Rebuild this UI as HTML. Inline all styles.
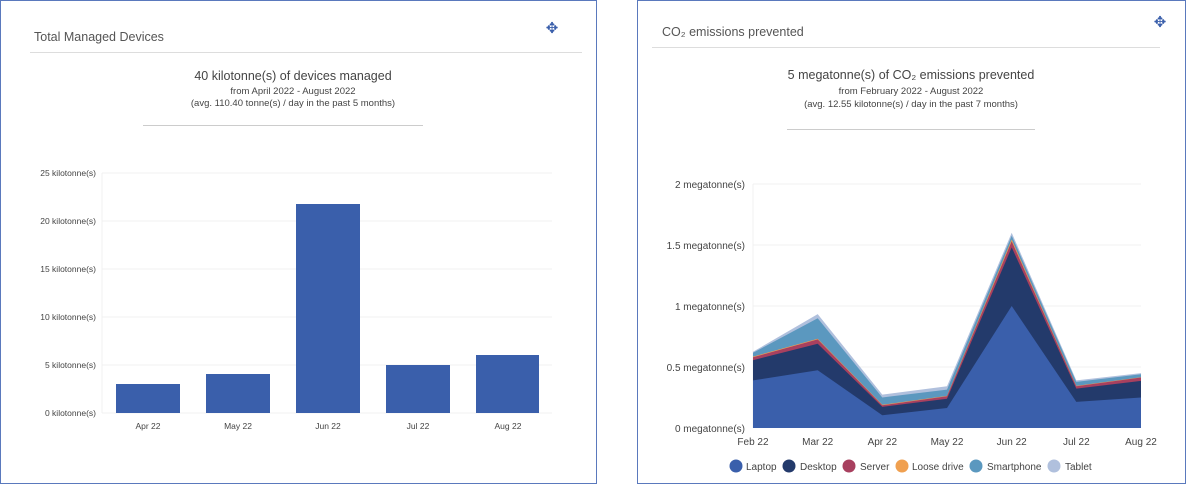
<!DOCTYPE html>
<html><head><meta charset="utf-8"><style>
body{margin:0;background:#fff;width:1186px;height:484px;overflow:hidden;font-family:"Liberation Sans",sans-serif}
</style></head><body>
<svg width="1186" height="484" xmlns="http://www.w3.org/2000/svg" font-family="Liberation Sans, sans-serif">
<rect x="0.5" y="0.5" width="596" height="483" fill="#fff" stroke="#5a79bd"/>
<rect x="637.5" y="0.5" width="548" height="483" fill="#fff" stroke="#5a79bd"/>
<!-- left panel -->
<text x="34" y="41" font-size="12.5" fill="#555">Total Managed Devices</text>
<line x1="30" y1="52.5" x2="582" y2="52.5" stroke="#ddd"/>
<text x="552" y="33" font-size="15" fill="#3a5fab" text-anchor="middle">✥</text>
<text x="293" y="80" font-size="12.5" fill="#444" text-anchor="middle">40 kilotonne(s) of devices managed</text>
<text x="293" y="94" font-size="9.5" fill="#444" text-anchor="middle">from April 2022 - August 2022</text>
<text x="293" y="106" font-size="9.5" fill="#444" text-anchor="middle">(avg. 110.40 tonne(s) / day in the past 5 months)</text>
<line x1="143" y1="125.5" x2="423" y2="125.5" stroke="#ccc"/>
<g stroke="#f0f0f0">
<line x1="102" y1="173" x2="552" y2="173"/><line x1="102" y1="221" x2="552" y2="221"/><line x1="102" y1="269" x2="552" y2="269"/><line x1="102" y1="317" x2="552" y2="317"/><line x1="102" y1="365" x2="552" y2="365"/><line x1="102" y1="413" x2="552" y2="413"/>
<line x1="102" y1="173" x2="102" y2="413"/>
</g>
<g font-size="8.5" fill="#444" text-anchor="end">
<text x="96" y="176">25 kilotonne(s)</text><text x="96" y="224">20 kilotonne(s)</text><text x="96" y="272">15 kilotonne(s)</text><text x="96" y="320">10 kilotonne(s)</text><text x="96" y="368">5 kilotonne(s)</text><text x="96" y="416">0 kilotonne(s)</text>
</g>
<g fill="#3a5fab">
<rect x="116" y="384" width="64" height="29"/><rect x="206" y="374" width="64" height="39"/><rect x="296" y="204" width="64" height="209"/><rect x="386" y="365" width="64" height="48"/><rect x="476" y="355" width="63" height="58"/>
</g>
<g font-size="8.5" fill="#444" text-anchor="middle">
<text x="148" y="429">Apr 22</text><text x="238" y="429">May 22</text><text x="328" y="429">Jun 22</text><text x="418" y="429">Jul 22</text><text x="508" y="429">Aug 22</text>
</g>
<!-- right panel -->
<text x="662" y="36" font-size="12.5" fill="#555">CO₂ emissions prevented</text>
<line x1="652" y1="47.5" x2="1160" y2="47.5" stroke="#ddd"/>
<text x="1160" y="27" font-size="15" fill="#3a5fab" text-anchor="middle">✥</text>
<text x="911" y="79" font-size="12.5" fill="#444" text-anchor="middle">5 megatonne(s) of CO₂ emissions prevented</text>
<text x="911" y="94" font-size="9.5" fill="#444" text-anchor="middle">from February 2022 - August 2022</text>
<text x="911" y="107" font-size="9.5" fill="#444" text-anchor="middle">(avg. 12.55 kilotonne(s) / day in the past 7 months)</text>
<line x1="787" y1="129.5" x2="1035" y2="129.5" stroke="#ccc"/>
<g stroke="#f0f0f0">
<line x1="753" y1="184" x2="1141" y2="184"/><line x1="753" y1="245" x2="1141" y2="245"/><line x1="753" y1="306" x2="1141" y2="306"/><line x1="753" y1="367" x2="1141" y2="367"/><line x1="753" y1="184" x2="753" y2="428"/>
</g>
<g font-size="10" fill="#444" text-anchor="end">
<text x="745" y="188">2 megatonne(s)</text><text x="745" y="249">1.5 megatonne(s)</text><text x="745" y="310">1 megatonne(s)</text><text x="745" y="371">0.5 megatonne(s)</text><text x="745" y="432">0 megatonne(s)</text>
</g>
<polygon fill="#b0c0dd" points="753,428 753,351.8 817.7,314.1 882.3,394.6 947,386.3 1011.7,232.8 1076.3,380.4 1141,373.1 1141,428"/>
<polygon fill="#5b98bf" points="753,428 753,352.8 817.7,318.2 882.3,397.5 947,389.6 1011.7,235.8 1076.3,381.9 1141,374.3 1141,428"/>
<polygon fill="#f0a050" points="753,428 753,356.6 817.7,338.7 882.3,404.8 947,395.9 1011.7,239.5 1076.3,385.9 1141,377.2 1141,428"/>
<polygon fill="#a8405f" points="753,428 753,357.2 817.7,339.4 882.3,405.3 947,396.3 1011.7,241.3 1076.3,386.3 1141,377.5 1141,428"/>
<polygon fill="#233a6b" points="753,428 753,360.2 817.7,343.8 882.3,406.9 947,398.7 1011.7,247.4 1076.3,388.6 1141,380.9 1141,428"/>
<polygon fill="#3a5fab" points="753,428 753,380.4 817.7,370.2 882.3,415.3 947,408 1011.7,306 1076.3,401.9 1141,397.5 1141,428"/>
<g font-size="10" fill="#444" text-anchor="middle">
<text x="753" y="445">Feb 22</text><text x="817.7" y="445">Mar 22</text><text x="882.3" y="445">Apr 22</text><text x="947" y="445">May 22</text><text x="1011.7" y="445">Jun 22</text><text x="1076.3" y="445">Jul 22</text><text x="1141" y="445">Aug 22</text>
</g>
<g font-size="10" fill="#444">
<circle cx="736" cy="466" r="6.5" fill="#3a5fab"/><text x="746" y="470">Laptop</text>
<circle cx="789" cy="466" r="6.5" fill="#233a6b"/><text x="800" y="470">Desktop</text>
<circle cx="849" cy="466" r="6.5" fill="#a8405f"/><text x="860" y="470">Server</text>
<circle cx="902" cy="466" r="6.5" fill="#f0a050"/><text x="912" y="470">Loose drive</text>
<circle cx="976" cy="466" r="6.5" fill="#5b98bf"/><text x="987" y="470">Smartphone</text>
<circle cx="1054" cy="466" r="6.5" fill="#b0c0dd"/><text x="1065" y="470">Tablet</text>
</g>
</svg>
</body></html>
